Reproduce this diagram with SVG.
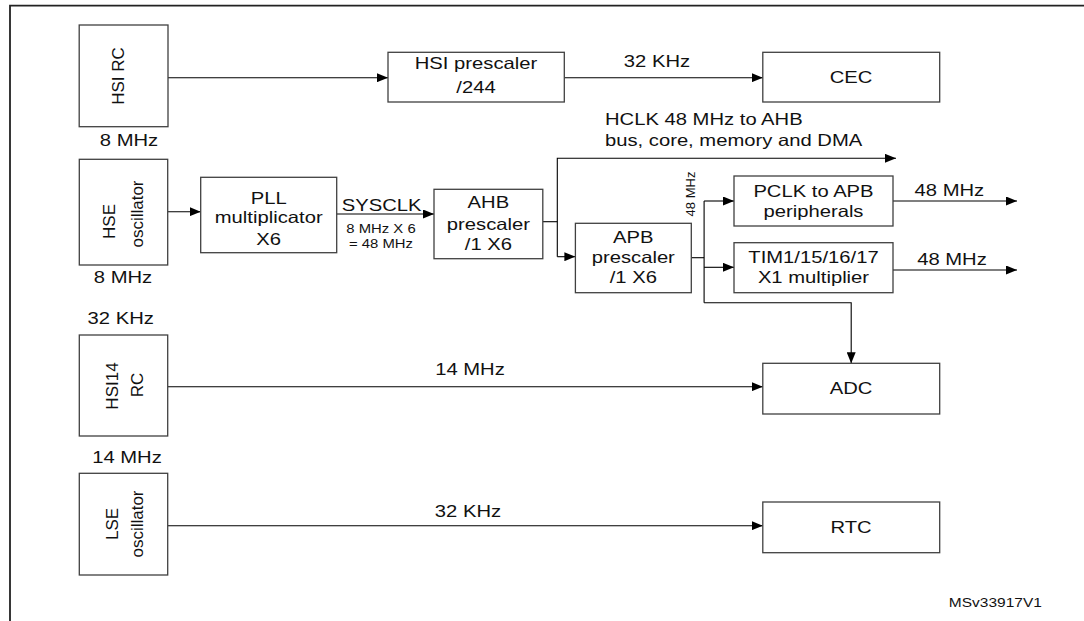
<svg xmlns="http://www.w3.org/2000/svg" width="1084" height="621" viewBox="0 0 1084 621">
<defs>
<marker id="arr" markerUnits="userSpaceOnUse" markerWidth="11" markerHeight="9" refX="11" refY="4.5" orient="auto">
<path d="M0,0 L11,4.5 L0,9 z" fill="#000"/>
</marker>
</defs>
<style>
text { font-family: "Liberation Sans", Arial, sans-serif; fill: #111; }
.t { font-size: 16.3px; text-anchor: middle; }
.sm { font-size: 12px; text-anchor: middle; }
.v { font-size: 17px; text-anchor: middle; }
.sc { transform-box: fill-box; transform-origin: center; transform: scaleX(1.24); }
.sl { font-size: 16.3px; text-anchor: start; transform-box: fill-box; transform-origin: left center; transform: scaleX(1.24); }
.box { fill: #fff; stroke: #404040; stroke-width: 1.3; }
.ln { fill: none; stroke: #000; stroke-width: 1.1; }
.a { marker-end: url(#arr); }
</style>
<rect width="1084" height="621" fill="#fff"/>
<path d="M10,625 V5.7 H1090" fill="none" stroke="#222" stroke-width="1.8"/>

<g id="connectors">
<path class="ln a" d="M168,77.7 H388"/>
<path class="ln a" d="M564.3,77.7 H762.8"/>
<path class="ln a" d="M167.7,211.7 H200.7"/>
<path class="ln a" d="M336.7,214 H434"/>
<path class="ln" d="M542.8,221.7 H557.3"/>
<path class="ln a" d="M557.3,256.7 V158.3 H896"/>
<path class="ln a" d="M557.3,256.7 H575.4"/>
<path class="ln" d="M691.3,257.7 H704.1"/>
<path class="ln a" d="M704.1,201 H734"/>
<path class="ln a" d="M704.1,267.3 H734"/>
<path class="ln" d="M704.1,201 V302.7"/>
<path class="ln a" d="M704.1,302.7 H851.2 V363.3"/>
<path class="ln a" d="M893,201 H1017"/>
<path class="ln a" d="M893,270 H1017"/>
<path class="ln a" d="M168,386.7 H762.8"/>
<path class="ln a" d="M168,525.7 H762.8"/>
<text class="t sc" x="657" y="66.7">32 KHz</text>
<text class="sl" x="605" y="125">HCLK 48 MHz to AHB</text>
<text class="sl" x="605" y="145.7">bus, core, memory and DMA</text>
<text class="t sc" x="381.7" y="211">SYSCLK</text>
<text class="sm sc" x="381" y="233.3">8 MHz X 6</text>
<text class="sm sc" x="381" y="248">= 48 MHz</text>
<text style="font-size:13px;text-anchor:middle" transform="translate(695.4,194) rotate(-90)">48 MHz</text>
<text class="t sc" x="949.4" y="195.7">48 MHz</text>
<text class="t sc" x="952" y="265">48 MHz</text>
<text class="t sc" x="470" y="375">14 MHz</text>
<text class="t sc" x="468" y="516.7">32 KHz</text>
</g>

<g id="hsi-rc">
<rect class="box" x="79.2" y="25" width="88.8" height="101.7"/>
<text class="v" transform="translate(124,76) rotate(-90)">HSI RC</text>
<text class="t sc" x="129" y="145.7">8 MHz</text>
</g>

<g id="hsi-prescaler">
<rect class="box" x="388" y="52.3" width="176.3" height="49.7"/>
<text class="t sc" x="476" y="69.3">HSI prescaler</text>
<text class="t sc" x="476" y="92.7">/244</text>
</g>

<g id="cec">
<rect class="box" x="762.8" y="52.3" width="176.9" height="49.7"/>
<text class="t sc" x="851" y="82.7">CEC</text>
</g>

<g id="hse-osc">
<rect class="box" x="79.3" y="159.3" width="88.4" height="105.7"/>
<text class="v" transform="translate(115,221.5) rotate(-90)">HSE</text>
<text class="v" transform="translate(143,214) rotate(-90)">oscillator</text>
<text class="t sc" x="123" y="283">8 MHz</text>
</g>

<g id="pll">
<rect class="box" x="200.7" y="177.3" width="136" height="75.4"/>
<text class="t sc" x="268.7" y="204.5">PLL</text>
<text class="t sc" x="268.7" y="223">multiplicator</text>
<text class="t sc" x="268.7" y="245">X6</text>
</g>

<g id="ahb-prescaler">
<rect class="box" x="434" y="189.3" width="108.8" height="69.4"/>
<text class="t sc" x="488.4" y="208.3">AHB</text>
<text class="t sc" x="488.4" y="230">prescaler</text>
<text class="t sc" x="488.4" y="250">/1 X6</text>
</g>

<g id="apb-prescaler">
<rect class="box" x="575.4" y="223.3" width="115.9" height="69.4"/>
<text class="t sc" x="633.3" y="243.3">APB</text>
<text class="t sc" x="633.3" y="263.3">prescaler</text>
<text class="t sc" x="633.3" y="283.3">/1 X6</text>
</g>

<g id="pclk">
<rect class="box" x="734" y="176" width="159" height="50"/>
<text class="t sc" x="813.5" y="196.7">PCLK to APB</text>
<text class="t sc" x="813.5" y="217">peripherals</text>
</g>

<g id="tim">
<rect class="box" x="734" y="242.7" width="159" height="50"/>
<text class="t sc" x="813.5" y="262.7">TIM1/15/16/17</text>
<text class="t sc" x="813.5" y="283.3">X1 multiplier</text>
</g>

<g id="hsi14-rc">
<text class="t sc" x="120.7" y="324">32 KHz</text>
<rect class="box" x="79.3" y="335" width="88.4" height="101"/>
<text class="v" transform="translate(118,386) rotate(-90)">HSI14</text>
<text class="v" transform="translate(143,385) rotate(-90)">RC</text>
<text class="t sc" x="127" y="463">14 MHz</text>
</g>

<g id="adc">
<rect class="box" x="762.8" y="363.3" width="176.9" height="50.7"/>
<text class="t sc" x="851" y="394.3">ADC</text>
</g>

<g id="lse-osc">
<rect class="box" x="79.3" y="473.3" width="88.4" height="101.7"/>
<text class="v" transform="translate(118,524) rotate(-90)">LSE</text>
<text class="v" transform="translate(143,524) rotate(-90)">oscillator</text>
</g>

<g id="rtc">
<rect class="box" x="762.8" y="502" width="176.9" height="50.7"/>
<text class="t sc" x="851" y="532.7">RTC</text>
</g>

<text style="font-size:12.5px;text-anchor:middle" class="sc" x="995.4" y="606.7">MSv33917V1</text>
</svg>
